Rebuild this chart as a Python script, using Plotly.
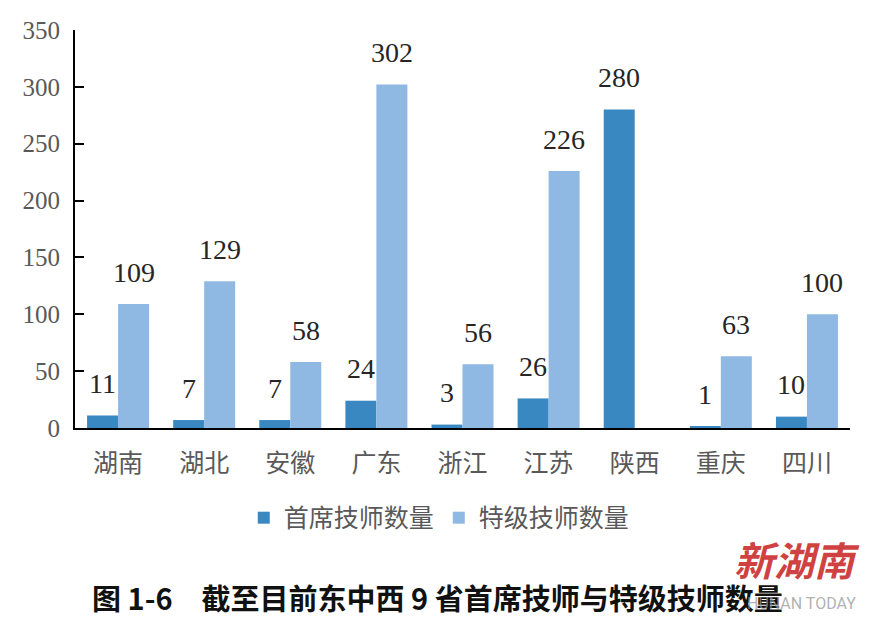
import plotly.graph_objects as go

categories = ["湖南", "湖北", "安徽", "广东", "浙江", "江苏", "陕西", "重庆", "四川"]
chief = [11, 7, 7, 24, 3, 26, 280, 1, 10]
special = [109, 129, 58, 302, 56, 226, None, 63, 100]
series_names = ["首席技师数量", "特级技师数量"]
y_ticks = [0, 50, 100, 150, 200, 250, 300, 350]

dark = "#3a88c2"
light = "#8fb8e2"
num_font = "Liberation Serif, Times New Roman, serif"
cjk = "Noto Sans CJK SC"

fig = go.Figure()
fig.add_trace(go.Bar(x=categories, y=chief, name=series_names[0], marker_color=dark, marker_line_width=0))
fig.add_trace(go.Bar(x=categories, y=special, name=series_names[1], marker_color=light, marker_line_width=0))

ann = []
for c, v in zip(categories, chief):
    if v is not None:
        ann.append(dict(x=c, y=v, xref="x", yref="y", text=str(v), showarrow=False,
                        xshift=-15.5, yshift=32, yanchor="middle",
                        font=dict(family=num_font, size=28, color="#262626")))
for c, v in zip(categories, special):
    if v is not None:
        ann.append(dict(x=c, y=v, xref="x", yref="y", text=str(v), showarrow=False,
                        xshift=15.5, yshift=32, yanchor="middle",
                        font=dict(family=num_font, size=28, color="#262626")))

ann.append(dict(x=0.468, y=-0.425, xref="paper", yref="paper", showarrow=False,
                text="<b>图 1-6　截至目前东中西 9 省首席技师与特级技师数量</b>",
                yanchor="middle", borderpad=0,
                font=dict(family=cjk, size=29, color="#111111")))
ann.append(dict(x=1.015, y=-0.33, xref="paper", yref="paper", showarrow=False,
                text="<i><b>新湖南</b></i>", yanchor="middle", xanchor="right",
                font=dict(family=cjk, size=40, color="rgba(200,30,30,0.85)")))
ann.append(dict(x=1.01, y=-0.44, xref="paper", yref="paper", showarrow=False,
                text="HUNAN TODAY", yanchor="middle", xanchor="right",
                font=dict(family="Roboto", size=16, color="rgba(150,150,150,0.75)")))

fig.update_layout(
    width=862, height=610,
    margin=dict(l=67, r=20, t=22, b=190, autoexpand=False),
    paper_bgcolor="white", plot_bgcolor="white",
    barmode="group", bargap=0.28, bargroupgap=0,
    showlegend=True,
    legend=dict(orientation="h", x=0.47, xanchor="center", y=-0.226, yanchor="middle",
                font=dict(family=cjk, size=25, color="#595959"), itemwidth=30),
    annotations=ann,
    xaxis=dict(showline=True, linecolor="black", linewidth=2, ticks="", showgrid=False,
               automargin=False,
               tickfont=dict(family=cjk, size=25, color="#595959"), ticklabelstandoff=12),
    yaxis=dict(range=[0, 350], tickvals=y_ticks, showline=True, linecolor="black", linewidth=2,
               ticks="inside", ticklen=9, tickwidth=2, tickcolor="black", showgrid=False,
               automargin=False,
               zeroline=False, tickfont=dict(family=num_font, size=25, color="#595959"),
               ticklabelstandoff=8),
)

fig.write_html("out.html")
